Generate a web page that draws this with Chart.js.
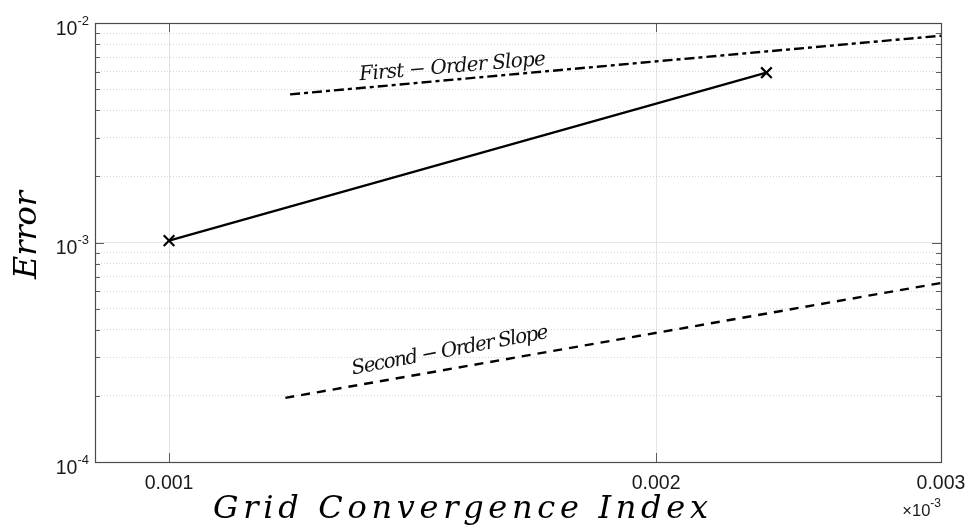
<!DOCTYPE html>
<html>
<head>
<meta charset="utf-8">
<script src="https://cdn.jsdelivr.net/npm/chart.js@4/dist/chart.umd.min.js"></script>
<style>
  html, body { margin: 0; padding: 0; background: #ffffff; }
  #wrap { width: 969px; height: 528px; }
</style>
</head>
<body>
<div id="wrap"><canvas id="c" width="969" height="528"></canvas></div>
<script>
// Grid convergence study: error against GCI, with reference slopes
const gciValues = [0.001, 0.00234];
const errorValues = [1.02e-3, 5.94e-3];

const firstOrderX = [0.001188, 0.003];
const firstOrderY = [4.73e-3, 8.75e-3];

const secondOrderX = [0.00118, 0.003];
const secondOrderY = [1.96e-4, 6.54e-4];

const xTicks = [0.001, 0.002, 0.003];
const xTickLabels = ['0.001', '0.002', '0.003'];
const yMajorTicks = [1e-4, 1e-3, 1e-2];
const yTickExponents = ['-4', '-3', '-2'];
const yMinorTicks = [2e-4, 3e-4, 4e-4, 5e-4, 6e-4, 7e-4, 8e-4, 9e-4,
                     2e-3, 3e-3, 4e-3, 5e-3, 6e-3, 7e-3, 8e-3, 9e-3];

const xTitle = 'Grid Convergence Index';
const yTitle = 'Error';
const firstOrderLabel = 'First \u2212 Order Slope';
const secondOrderLabel = 'Second \u2212 Order Slope';

const pts = (xs, ys) => xs.map((v, i) => ({ x: v, y: ys[i] }));

const SANS = '"Liberation Sans", Arial, sans-serif';
const SERIF = '"DejaVu Serif", serif';

// draw text with evenly spread letters so it fills a given width
function spacedText(ctx, text, x, y, width, align) {
  const chars = Array.from(text);
  const widths = chars.map(ch => ctx.measureText(ch).width);
  const natural = widths.reduce((s, w) => s + w, 0);
  const extra = chars.length > 1 ? (width - natural) / (chars.length - 1) : 0;
  let cx = align === 'center' ? x - width / 2 : x;
  ctx.textAlign = 'left';
  chars.forEach((ch, i) => {
    ctx.fillText(ch, cx, y);
    cx += widths[i] + extra;
  });
}

const decor = {
  id: 'decor',
  afterDraw(chart) {
    const { ctx, chartArea: a, scales: { x, y } } = chart;
    ctx.save();

    // inward tick marks on all four sides
    ctx.strokeStyle = '#5c5c5c';
    ctx.lineWidth = 1;
    ctx.beginPath();
    xTicks.forEach(v => {
      const px = Math.round(x.getPixelForValue(v)) + 0.5;
      if (px < a.left + 2 || px > a.right - 2) return;
      ctx.moveTo(px, a.bottom); ctx.lineTo(px, a.bottom - 9);
      ctx.moveTo(px, a.top); ctx.lineTo(px, a.top + 9);
    });
    const yTick = (v, len) => {
      const py = Math.round(y.getPixelForValue(v)) + 0.5;
      if (py < a.top + 2 || py > a.bottom - 2) return;
      ctx.moveTo(a.left, py); ctx.lineTo(a.left + len, py);
      ctx.moveTo(a.right, py); ctx.lineTo(a.right - len, py);
    };
    yMajorTicks.forEach(v => yTick(v, 9));
    yMinorTicks.forEach(v => yTick(v, 5));
    ctx.stroke();

    // axes box
    ctx.strokeStyle = '#4a4a4a';
    ctx.lineWidth = 1.2;
    ctx.strokeRect(Math.round(a.left) + 0.5, Math.round(a.top) + 0.5,
                   Math.round(a.right - a.left), Math.round(a.bottom - a.top));

    // x tick labels
    ctx.fillStyle = '#1a1a1a';
    ctx.font = '19.5px ' + SANS;
    ctx.textAlign = 'center';
    ctx.textBaseline = 'alphabetic';
    xTicks.forEach((v, i) => {
      ctx.fillText(xTickLabels[i], x.getPixelForValue(v), a.bottom + 27);
    });

    // y tick labels as powers of ten
    yMajorTicks.forEach((v, i) => {
      const py = y.getPixelForValue(v);
      ctx.font = '13px ' + SANS;
      const ew = ctx.measureText(yTickExponents[i]).width;
      ctx.textAlign = 'left';
      ctx.fillText(yTickExponents[i], 89 - ew, py + 1.5);
      ctx.font = '19.5px ' + SANS;
      ctx.textAlign = 'right';
      ctx.fillText('10', 89 - ew, py + 11.5);
    });

    // exponent multiplier under the x axis
    ctx.font = '12px ' + SANS;
    const mw = ctx.measureText('-3').width;
    ctx.textAlign = 'left';
    ctx.fillText('-3', a.right - mw, 507);
    ctx.font = '16.5px ' + SANS;
    ctx.textAlign = 'right';
    ctx.fillText('\u00d710', a.right - mw, 516);

    // axis titles
    ctx.fillStyle = '#000000';
    ctx.font = 'italic 32px ' + SERIF;
    spacedText(ctx, xTitle, 213, 518, 495, 'left');

    ctx.save();
    ctx.translate(36, 235);
    ctx.rotate(-Math.PI / 2);
    spacedText(ctx, yTitle, 0, 0, 88, 'center');
    ctx.restore();

    // slope annotations
    ctx.fillStyle = '#111111';
    ctx.font = 'italic 20px ' + SERIF;
    ctx.save();
    ctx.translate(x.getPixelForValue(1.498e-3), y.getPixelForValue(5.95e-3));
    ctx.rotate(-4.8 * Math.PI / 180);
    spacedText(ctx, firstOrderLabel, 0, 0, 187, 'center');
    ctx.restore();

    ctx.save();
    ctx.translate(x.getPixelForValue(1.494e-3), y.getPixelForValue(3.04e-4));
    ctx.rotate(-10.6 * Math.PI / 180);
    spacedText(ctx, secondOrderLabel, 0, 0, 200, 'center');
    ctx.restore();

    ctx.restore();
  }
};

const isMinorY = v => yMinorTicks.includes(v);

new Chart(document.getElementById('c'), {
  type: 'scatter',
  data: {
    datasets: [
      {
        label: 'Error',
        data: pts(gciValues, errorValues),
        showLine: true,
        borderColor: '#000000',
        backgroundColor: '#000000',
        borderWidth: 2.2,
        pointStyle: 'crossRot',
        pointRadius: 7.5,
        pointBorderWidth: 2.2,
        pointBorderColor: '#000000'
      },
      {
        label: 'First-order slope',
        data: pts(firstOrderX, firstOrderY),
        showLine: true,
        borderColor: '#000000',
        borderWidth: 2.4,
        borderDash: [10, 4, 4, 4],
        pointRadius: 0
      },
      {
        label: 'Second-order slope',
        data: pts(secondOrderX, secondOrderY),
        showLine: true,
        borderColor: '#000000',
        borderWidth: 2.4,
        borderDash: [9, 7],
        pointRadius: 0
      }
    ]
  },
  options: {
    responsive: false,
    devicePixelRatio: 1,
    animation: false,
    layout: { autoPadding: false, padding: { left: 0, top: 23, right: 28, bottom: 0 } },
    plugins: { legend: { display: false }, tooltip: { enabled: false } },
    scales: {
      x: {
        type: 'logarithmic',
        min: 0.0009,
        max: 0.003,
        afterBuildTicks: s => { s.ticks = xTicks.map(v => ({ value: v })); },
        afterFit: s => { s.height = 66; },
        ticks: { display: false },
        grid: {
          drawTicks: false,
          lineWidth: 1,
          color: c => (c.tick && c.tick.value >= 0.003) ? 'rgba(0,0,0,0)' : '#e4e4e4'
        },
        border: { display: false }
      },
      y: {
        type: 'logarithmic',
        min: 1e-4,
        max: 1e-2,
        afterBuildTicks: s => {
          s.ticks = yMajorTicks.concat(yMinorTicks).sort((p, q) => p - q).map(v => ({ value: v }));
        },
        afterFit: s => { s.width = 95; },
        ticks: { display: false },
        grid: {
          drawTicks: false,
          lineWidth: 1,
          color: c => {
            if (!c.tick) return '#e4e4e4';
            const v = c.tick.value;
            if (v === 1e-4 || v === 1e-2) return 'rgba(0,0,0,0)';
            return isMinorY(v) ? '#d4d4d4' : '#e4e4e4';
          }
        },
        border: {
          display: false,
          dash: c => (c.tick && isMinorY(c.tick.value)) ? [1, 2] : []
        }
      }
    }
  },
  plugins: [decor]
});
</script>
</body>
</html>
